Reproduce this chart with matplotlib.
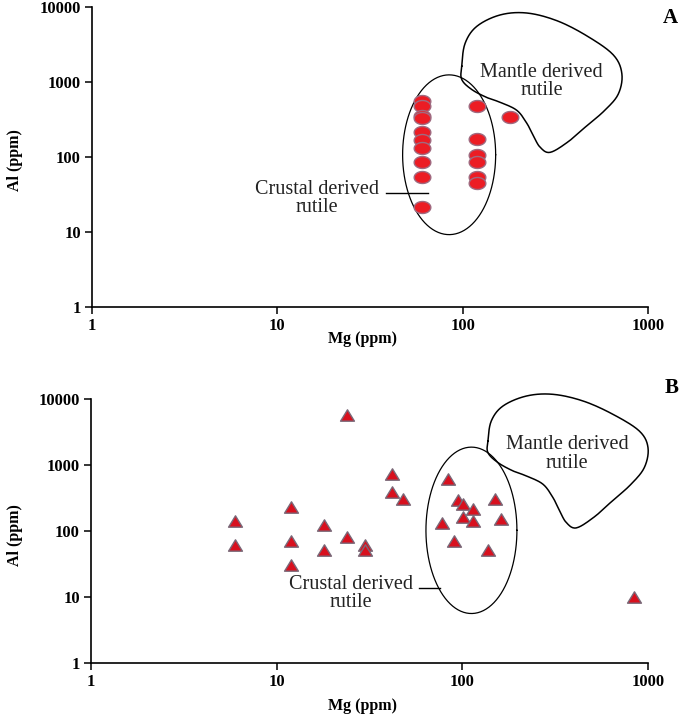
import numpy as np
import matplotlib
matplotlib.use("Agg")
import matplotlib.pyplot as plt
from matplotlib.path import Path

# ---------------- data ----------------
# Panel A : rutile Mg vs Al (circles)
mg_a = [60, 60, 60, 60, 60, 60, 60, 60, 60, 60,
        120, 120, 120, 120, 120, 120, 180]
al_a = [566, 474, 352, 329, 217, 170, 132, 87, 54, 21.6,
        477, 174, 108, 87, 54, 44.6, 339]

# Panel B : rutile Mg vs Al (triangles)
mg_b = [6, 6, 12, 12, 12, 18, 18, 24, 24, 30, 30, 42, 42, 48,
        84, 78, 90, 95, 101, 101, 114, 114, 137, 150, 162, 840]
al_b = [142, 61, 227, 70, 30, 122, 51, 5770, 82, 61, 51, 720, 382, 303,
        610, 133, 71, 292, 258, 164, 213, 143, 51, 306, 153, 10]

tick_vals_x = [1, 10, 100, 1000]
tick_labels_x = ["1", "10", "100", "1000"]
tick_vals_y = [1, 10, 100, 1000, 10000]
tick_labels_y = ["1", "10", "100", "1000", "10000"]

# field outlines (log10 Mg, log10 Al)
mantle_a_log_mg = [1.995, 2.013, 2.076, 2.202, 2.346, 2.508, 2.669, 2.812, 2.859, 2.839,
                   2.763, 2.666, 2.569, 2.472, 2.418, 2.382, 2.346, 2.292, 2.202, 2.130,
                   2.049, 1.995]
mantle_a_log_al = [3.212, 3.515, 3.742, 3.894, 3.920, 3.818, 3.617, 3.364, 3.111, 2.837,
                   2.615, 2.410, 2.205, 2.064, 2.132, 2.282, 2.452, 2.624, 2.731, 2.795,
                   2.901, 3.035]
mantle_b_log_mg = [2.138, 2.156, 2.219, 2.345, 2.488, 2.650, 2.811, 2.953, 3.000, 2.980,
                   2.905, 2.808, 2.711, 2.614, 2.560, 2.524, 2.488, 2.434, 2.345, 2.273,
                   2.192, 2.138]
mantle_b_log_al = [3.364, 3.667, 3.894, 4.045, 4.071, 3.970, 3.768, 3.515, 3.262, 2.959,
                   2.697, 2.455, 2.212, 2.045, 2.126, 2.303, 2.505, 2.708, 2.833, 2.909,
                   3.035, 3.186]

# crustal field ellipses: centre (log Mg, log Al), semi-axes (decades)
crust_a = (1.927, 2.032, 0.251, 1.064)
crust_b = (2.049, 2.008, 0.245, 1.262)

SERIF = ["Liberation Serif", "DejaVu Serif"]


def smooth_closed(xs, ys, n=14):
    p = np.column_stack([xs, ys])
    m = len(p)
    out = []
    for i in range(m):
        p0, p1, p2, p3 = p[(i - 1) % m], p[i], p[(i + 1) % m], p[(i + 2) % m]
        for t in np.linspace(0, 1, n, endpoint=False):
            t2, t3 = t * t, t * t * t
            out.append(0.5 * ((2 * p1) + (-p0 + p2) * t +
                              (2 * p0 - 5 * p1 + 4 * p2 - p3) * t2 +
                              (-p0 + 3 * p1 - 3 * p2 + p3) * t3))
    out.append(out[0])
    out = np.array(out)
    return out[:, 0], out[:, 1]


def ellipse(params):
    cx, cy, rx, ry = params
    t = np.linspace(0, 2 * np.pi, 300)
    return 10 ** (cx + rx * np.cos(t)), 10 ** (cy + ry * np.sin(t))


# custom markers
tt = np.linspace(0, 2 * np.pi, 40)
oval = Path(np.column_stack([np.cos(tt), 0.72 * np.sin(tt)]), closed=True)
tri = Path([(0, 0.82), (-1, -0.82), (1, -0.82), (0, 0.82)], closed=True)

W, H = 685, 715
fig = plt.figure(figsize=(W / 100, H / 100), dpi=100)

ax_a = fig.add_axes([92 / W, 1 - 307.3 / H, 556 / W, 300.3 / H])
ax_b = fig.add_axes([91 / W, 1 - 662.7 / H, 557 / W, 263.7 / H])


def style(ax):
    ax.set_xscale("log")
    ax.set_yscale("log")
    ax.set_xlim(1, 1000)
    ax.set_ylim(1, 10000)
    ax.set_xticks(tick_vals_x)
    ax.set_xticklabels(tick_labels_x)
    ax.set_yticks(tick_vals_y)
    ax.set_yticklabels(tick_labels_y)
    ax.minorticks_off()
    for s in ["top", "right"]:
        ax.spines[s].set_visible(False)
    for s in ["left", "bottom"]:
        ax.spines[s].set_linewidth(1.2)
    ax.tick_params(axis="both", direction="out", length=5, width=1.1)
    ax.tick_params(axis="x", pad=3)
    ax.tick_params(axis="y", pad=3)
    for lab in ax.get_xticklabels() + ax.get_yticklabels():
        lab.set_fontfamily(SERIF)
        lab.set_fontweight("bold")
        lab.set_fontsize(12)


for ax in (ax_a, ax_b):
    style(ax)

# ---- panel A ----
ex, ey = ellipse(crust_a)
ax_a.plot(ex, ey, color="black", lw=0.9, zorder=2)
mx, my = smooth_closed(mantle_a_log_mg, mantle_a_log_al)
ax_a.plot(10 ** mx, 10 ** my, color="black", lw=1.1, zorder=2)
ax_a.plot(mg_a, al_a, linestyle="none", marker=oval, markersize=12,
          markerfacecolor="#ec1c24", markeredgecolor="#a06a80",
          markeredgewidth=1.0, zorder=3, clip_on=False)
ax_a.text(267, 1010, "Mantle derived\nrutile", ha="center", va="center",
          fontsize=14.5, family=SERIF, linespacing=0.95, color="#222222")
ax_a.text(16.3, 28, "Crustal derived\nrutile", ha="center", va="center",
          fontsize=14.5, family=SERIF, linespacing=0.95, color="#222222")
ax_a.plot([38.6, 64.7], [33.6, 33.6], color="black", lw=1.0)

# ---- panel B ----
ex, ey = ellipse(crust_b)
ax_b.plot(ex, ey, color="black", lw=0.9, zorder=2)
mx, my = smooth_closed(mantle_b_log_mg, mantle_b_log_al)
ax_b.plot(10 ** mx, 10 ** my, color="black", lw=1.1, zorder=2, clip_on=False)
ax_b.plot(mg_b, al_b, linestyle="none", marker=tri, markersize=10,
          markerfacecolor="#d8101e", markeredgecolor="#7a6878",
          markeredgewidth=1.0, zorder=3, clip_on=False)
ax_b.text(366, 1468, "Mantle derived\nrutile", ha="center", va="center",
          fontsize=14.5, family=SERIF, linespacing=0.95, color="#222222")
ax_b.text(25.1, 11.1, "Crustal derived\nrutile", ha="center", va="center",
          fontsize=14.5, family=SERIF, linespacing=0.95, color="#222222")
ax_b.plot([58.4, 75.8], [13.8, 13.8], color="black", lw=1.0)

# axis titles and panel letters
for yl, yx in [(160, "Al (ppm)"), (535, "Al (ppm)")]:
    fig.text(15 / W, 1 - yl / H, yx, rotation=90, ha="center", va="center",
             fontsize=11.5, fontweight="bold", family=SERIF)
for yl in (339, 706):
    fig.text(363 / W, 1 - yl / H, "Mg (ppm)", ha="center", va="center",
             fontsize=11.5, fontweight="bold", family=SERIF)
fig.text(670 / W, 1 - 18 / H, "A", ha="center", va="center",
         fontsize=15, fontweight="bold", family=SERIF)
fig.text(672 / W, 1 - 388 / H, "B", ha="center", va="center",
         fontsize=15, fontweight="bold", family=SERIF)

fig.savefig("out.png", dpi=100)
